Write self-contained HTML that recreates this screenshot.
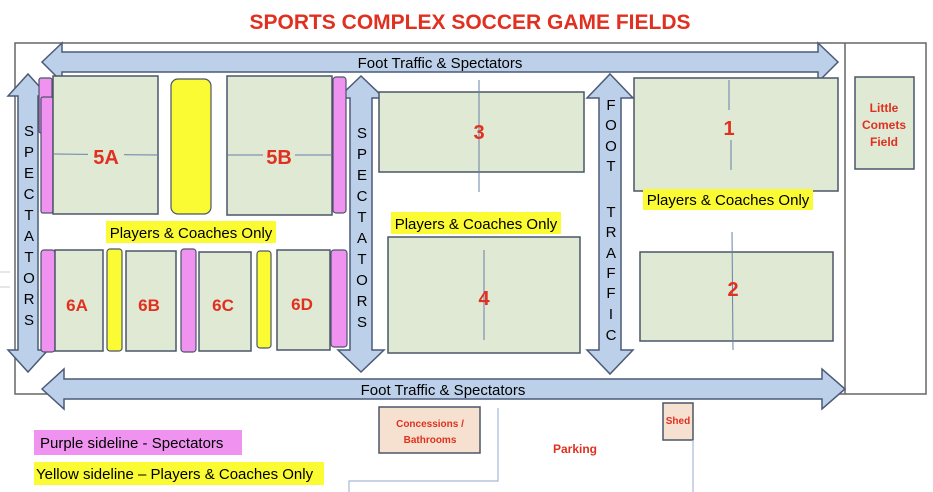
<!DOCTYPE html>
<html><head><meta charset="utf-8"><style>
body{margin:0;background:#fff}
svg{display:block;font-family:"Liberation Sans",sans-serif}
.f{fill:#dfe9d3;stroke:#4a5668;stroke-width:1.5}
.p{fill:#f093f0;stroke:#4a5668;stroke-width:1.2}
.y{fill:#fbfb33;stroke:#4a5668;stroke-width:1.2}
.a{fill:#bcd0ea;stroke:#4a5a78;stroke-width:1.5}
.r{fill:#e03020;font-weight:bold;text-anchor:middle}
.k{fill:#000;font-size:15px;text-anchor:middle}
.v{fill:#000;font-size:15px;text-anchor:middle}
</style></head><body>
<svg width="933" height="492" viewBox="0 0 933 492">
<text x="470" y="29" class="r" style="font-size:21px">SPORTS COMPLEX SOCCER GAME FIELDS</text>
<rect x="15" y="43" width="911" height="351" fill="none" stroke="#666" stroke-width="1.5"/>
<line x1="845" y1="43" x2="845" y2="394" stroke="#666" stroke-width="1.5"/>
<line x1="0" y1="272" x2="10" y2="272" stroke="#ccc"/>
<line x1="0" y1="287" x2="10" y2="287" stroke="#ccc"/>

<!-- top arrow -->
<polygon class="a" points="42,62 62,43 62,52 818,52 818,43 838,62 818,82 818,72 62,72 62,82"/>
<text x="440" y="68" class="k">Foot Traffic &amp; Spectators</text>
<!-- bottom arrow -->
<polygon class="a" points="42,389 64,369 64,379 822,379 822,369 845,389 822,409 822,399 64,399 64,409"/>
<text x="443" y="395" class="k">Foot Traffic &amp; Spectators</text>

<!-- vertical arrows -->
<polygon class="a" points="28,74 48,96 38,96 38,350 48,350 28,372 8,350 18,350 18,96 8,96"/>
<polygon class="a" points="361,76 384,98 372,98 372,350 384,350 361,372 338,350 350,350 350,98 338,98"/>
<polygon class="a" points="610,74 633,98 621,98 621,350 633,350 610,374 587,350 599,350 599,98 587,98"/>
<g class="v">
<text x="29" y="136">S</text><text x="29" y="157">P</text><text x="29" y="178">E</text><text x="29" y="199">C</text><text x="29" y="220">T</text><text x="29" y="241">A</text><text x="29" y="262">T</text><text x="29" y="283">O</text><text x="29" y="304">R</text><text x="29" y="325">S</text>
<text x="362" y="138">S</text><text x="362" y="159">P</text><text x="362" y="180">E</text><text x="362" y="201">C</text><text x="362" y="222">T</text><text x="362" y="243">A</text><text x="362" y="264">T</text><text x="362" y="285">O</text><text x="362" y="306">R</text><text x="362" y="327">S</text>
<text x="611" y="110">F</text><text x="611" y="130">O</text><text x="611" y="151">O</text><text x="611" y="171">T</text>
<text x="611" y="217">T</text><text x="611" y="237">R</text><text x="611" y="258">A</text><text x="611" y="278">F</text><text x="611" y="298">F</text><text x="611" y="319">I</text><text x="611" y="340">C</text>
</g>

<!-- 5A/5B -->
<rect class="p" x="39" y="78" width="13" height="55" rx="2"/>
<rect class="p" x="41" y="97" width="12" height="116" rx="2"/>
<rect class="f" x="53" y="76" width="105" height="138"/>
<line x1="54" y1="154" x2="158" y2="155" stroke="#6a80a8"/>
<rect x="88" y="145" width="36" height="22" fill="#dfe9d3"/>
<text x="106" y="164" class="r" style="font-size:20px">5A</text>
<rect class="y" x="171" y="79" width="40" height="135" rx="7"/>
<rect class="f" x="227" y="76" width="105" height="139"/>
<line x1="228" y1="155" x2="332" y2="155" stroke="#6a80a8"/>
<rect x="263" y="145" width="32" height="22" fill="#dfe9d3"/>
<text x="279" y="164" class="r" style="font-size:20px">5B</text>
<rect class="p" x="333" y="77" width="13" height="136" rx="3"/>

<rect x="106" y="221" width="170" height="22" fill="#fbfb33"/>
<text x="191" y="238" class="k">Players &amp; Coaches Only</text>

<!-- row 6 -->
<rect class="p" x="41" y="250" width="14" height="102" rx="3"/>
<rect class="f" x="55" y="250" width="48" height="101"/>
<rect class="y" x="107" y="249" width="15" height="102" rx="3"/>
<rect class="f" x="126" y="251" width="50" height="100"/>
<rect class="p" x="181" y="249" width="15" height="103" rx="3"/>
<rect class="f" x="199" y="252" width="52" height="99"/>
<rect class="y" x="257" y="251" width="14" height="97" rx="3"/>
<rect class="f" x="277" y="250" width="53" height="100"/>
<rect class="p" x="331" y="250" width="16" height="97" rx="3"/>
<g class="r" style="font-size:17px">
<text x="77" y="311">6A</text><text x="149" y="311">6B</text><text x="223" y="311">6C</text><text x="302" y="310">6D</text>
</g>

<!-- 3 & 4 -->
<rect class="f" x="379" y="92" width="205" height="80"/>
<line x1="479" y1="80" x2="479" y2="192" stroke="#6a80a8"/>
<text x="479" y="139" class="r" style="font-size:20px">3</text>
<rect x="391" y="212" width="170" height="22" fill="#fbfb33"/>
<text x="476" y="229" class="k">Players &amp; Coaches Only</text>
<rect class="f" x="388" y="237" width="192" height="116"/>
<line x1="484" y1="250" x2="484" y2="340" stroke="#6a80a8"/>
<text x="484" y="305" class="r" style="font-size:20px">4</text>

<!-- 1 & 2 -->
<rect class="f" x="634" y="78" width="204" height="113"/>
<line x1="729" y1="80" x2="729" y2="110" stroke="#6a80a8"/>
<line x1="731" y1="140" x2="731" y2="170" stroke="#6a80a8"/>
<text x="729" y="135" class="r" style="font-size:20px">1</text>
<rect x="643" y="189" width="170" height="21" fill="#fbfb33"/>
<text x="728" y="205" class="k">Players &amp; Coaches Only</text>
<rect class="f" x="640" y="252" width="193" height="89"/>
<line x1="732" y1="232" x2="733" y2="350" stroke="#6a80a8"/>
<text x="733" y="296" class="r" style="font-size:20px">2</text>

<!-- little comets -->
<rect class="f" x="855" y="77" width="59" height="92"/>
<g class="r" style="font-size:12px"><text x="884" y="112">Little</text><text x="884" y="129">Comets</text><text x="884" y="146">Field</text></g>

<!-- bottom -->
<rect x="379" y="407" width="101" height="46" fill="#f6e1d0" stroke="#4a5668" stroke-width="1.5"/>
<g class="r" style="font-size:10px"><text x="430" y="427">Concessions /</text><text x="430" y="443">Bathrooms</text></g>
<rect x="663" y="403" width="30" height="37" fill="#f6e1d0" stroke="#4a5668" stroke-width="1.5"/>
<text x="678" y="424" class="r" style="font-size:10px">Shed</text>
<text x="575" y="453" class="r" style="font-size:12px">Parking</text>
<polyline points="498,408 498,481 349,481 349,492" fill="none" stroke="#a8b8d8" stroke-width="1.2"/>
<line x1="693" y1="440" x2="693" y2="492" stroke="#a8b8d8" stroke-width="1.2"/>

<rect x="34" y="430" width="208" height="25" fill="#f093f0"/>
<text x="40" y="448" style="font-size:15px">Purple sideline - Spectators</text>
<rect x="34" y="462" width="290" height="23" fill="#fbfb33"/>
<text x="36" y="479" style="font-size:15px">Yellow sideline – Players &amp; Coaches Only</text>
</svg>
</body></html>
